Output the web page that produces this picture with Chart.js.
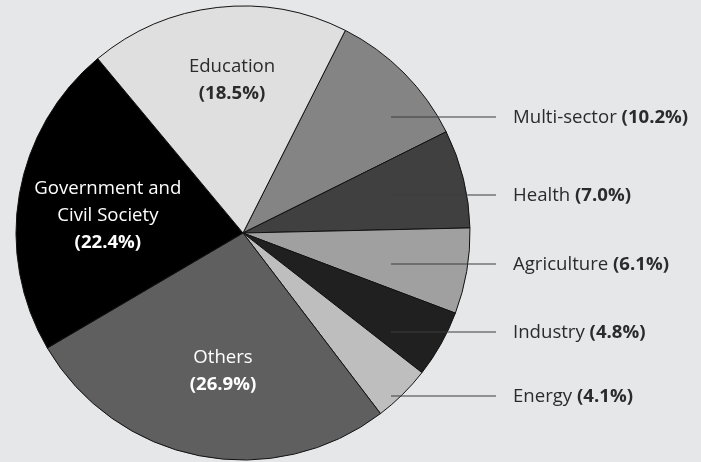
<!DOCTYPE html>
<html>
<head>
<meta charset="utf-8">
<script src="https://cdn.jsdelivr.net/npm/chart.js@4/dist/chart.umd.min.js"></script>
<style>
  html, body { margin: 0; padding: 0; background: #e6e7e9; }
  #wrap { width: 701px; height: 462px; }
</style>
</head>
<body>
<div id="wrap"><canvas id="pieChart" width="701" height="462"></canvas></div>
<script>
// sectors, clockwise from the Education / Multi-sector boundary
const sectors = ["Multi-sector", "Health", "Agriculture", "Industry", "Energy", "Others", "Government and Civil Society", "Education"];
const shares = [10.2, 7.0, 6.1, 4.8, 4.1, 26.9, 22.4, 18.5];
const labelLines = [["Multi-sector"], ["Health"], ["Agriculture"], ["Industry"], ["Energy"], ["Others"], ["Government and", "Civil Society"], ["Education"]];
const outsideLabel = [true, true, true, true, true, false, false, false];
const sliceColors = ["#848484", "#404040", "#a0a0a0", "#202020", "#bebebe", "#5f5f5f", "#000000", "#dfdfdf"];
const textColors = ["#2b2b2b", "#2b2b2b", "#2b2b2b", "#2b2b2b", "#2b2b2b", "#ffffff", "#ffffff", "#2b2b2b"];

const FONT = '"Open Sans", sans-serif';
const SIZE = 18.6;
const outsideY = [117, 195, 264, 332, 396];  // label rows on the right
// inner label anchor: [fraction of radius, angle nudge in degrees]
const innerPos = { 5: [0.614, -2.9], 6: [0.6, -2.7], 7: [0.676, 2.4] };

const sliceLabels = {
  id: "sliceLabels",
  afterDatasetsDraw(chart) {
    const ctx = chart.ctx;
    const arcs = chart.getDatasetMeta(0).data;
    let row = 0;
    ctx.save();
    ctx.textBaseline = "middle";
    arcs.forEach((arc, i) => {
      const pct = "(" + shares[i].toFixed(1) + "%)";
      if (outsideLabel[i]) {
        const y = outsideY[row++];
        ctx.strokeStyle = "#3c3c3c";
        ctx.lineWidth = 1.2;
        ctx.beginPath();
        ctx.moveTo(arc.x + 148, y);
        ctx.lineTo(arc.x + 253, y);
        ctx.stroke();
        ctx.textAlign = "left";
        ctx.fillStyle = textColors[i];
        ctx.font = SIZE + "px " + FONT;
        const name = labelLines[i][0] + " ";
        const x0 = arc.x + 270;
        ctx.fillText(name, x0, y + 1);
        const w = ctx.measureText(name).width;
        ctx.font = "bold " + SIZE + "px " + FONT;
        ctx.fillText(pct, x0 + w, y + 1);
      } else {
        const p = innerPos[i];
        const mid = (arc.startAngle + arc.endAngle) / 2 + p[1] * Math.PI / 180;
        const r = arc.outerRadius * p[0];
        const cx = arc.x + Math.cos(mid) * r;
        const cy = arc.y + Math.sin(mid) * r;
        const lines = labelLines[i].concat([pct]);
        const lh = 27;
        const top = cy - (lines.length - 1) * lh / 2;
        ctx.textAlign = "center";
        ctx.fillStyle = textColors[i];
        lines.forEach((t, k) => {
          ctx.font = (k === lines.length - 1 ? "bold " : "") + SIZE + "px " + FONT;
          ctx.fillText(t, cx, top + k * lh);
        });
      }
    });
    ctx.restore();
  }
};

new Chart(document.getElementById("pieChart"), {
  type: "pie",
  data: {
    labels: sectors,
    datasets: [{
      data: shares,
      backgroundColor: sliceColors,
      borderColor: "#111111",
      borderWidth: 1,
      hoverOffset: 0
    }]
  },
  options: {
    responsive: false,
    animation: false,
    events: [],
    rotation: 26.8,
    radius: 227,
    layout: { padding: { top: 4, left: 0, right: 215, bottom: 0 } },
    plugins: {
      legend: { display: false },
      tooltip: { enabled: false }
    }
  },
  plugins: [sliceLabels]
});
</script>
</body>
</html>
